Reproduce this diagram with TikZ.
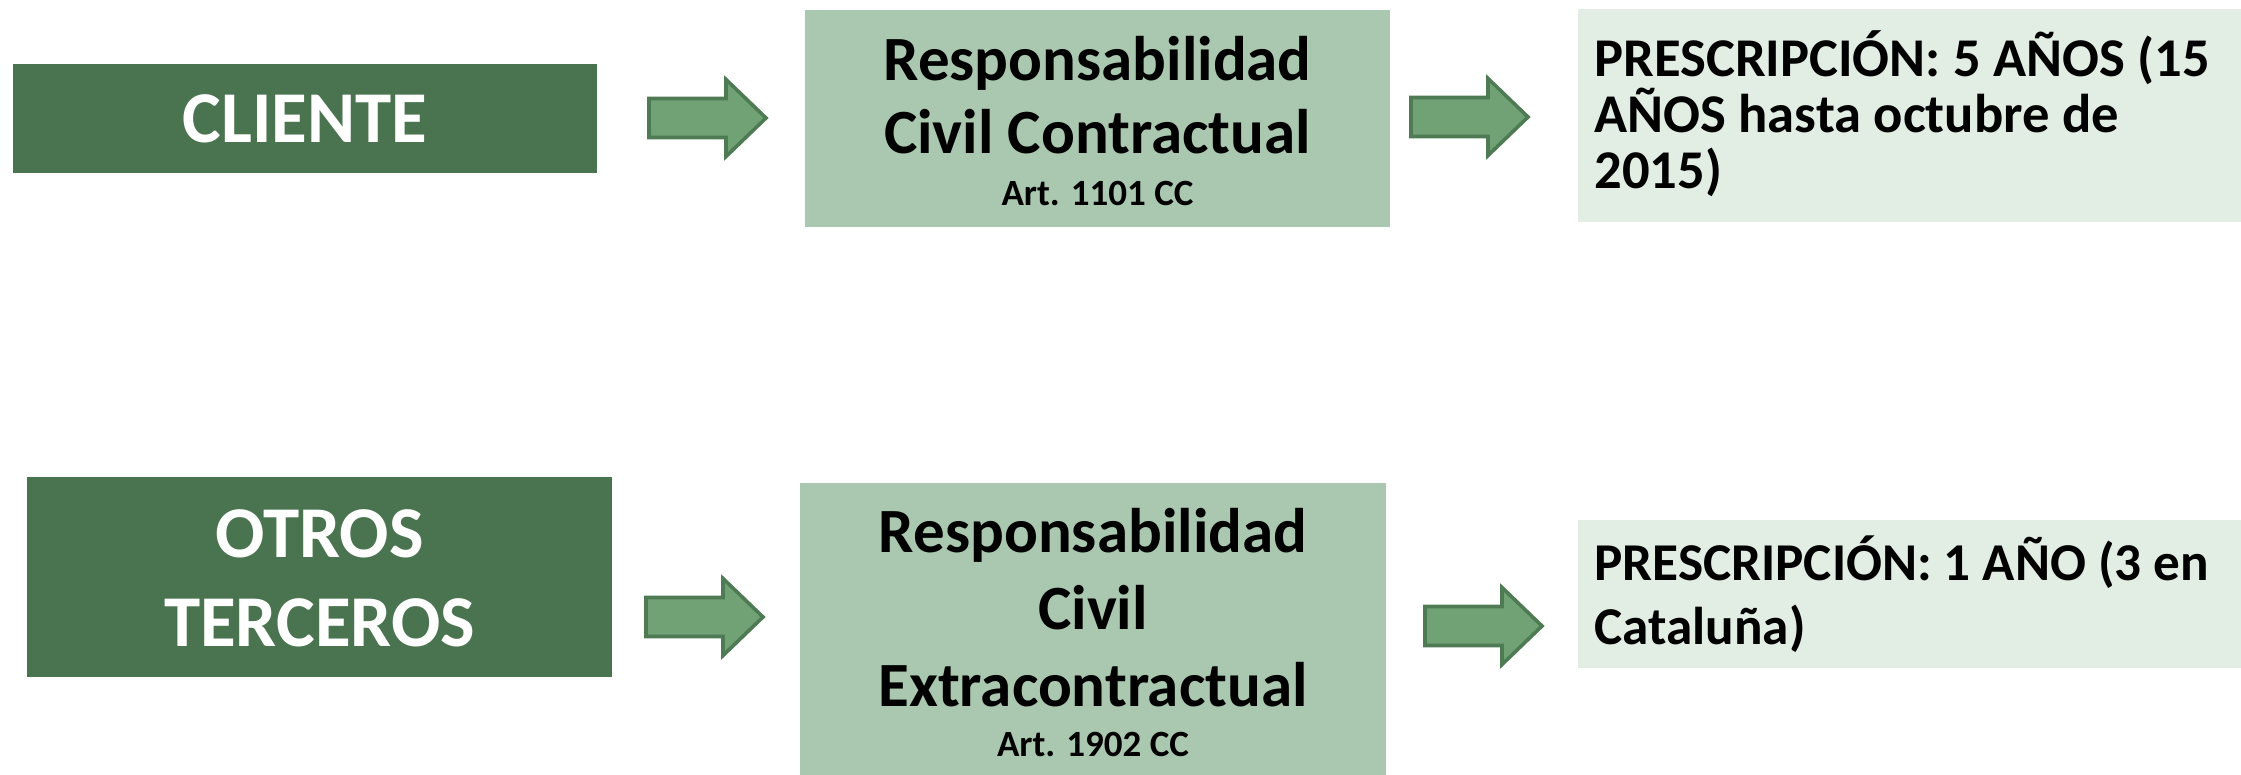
\documentclass[tikz,border=0pt]{standalone}
\usepackage{fontspec}
\setmainfont{Carlito}
\usetikzlibrary{fit}
\definecolor{dkgreen}{RGB}{74,116,79}
\definecolor{midgreen}{RGB}{170,200,175}
\definecolor{ltgreen}{RGB}{226,237,228}
\definecolor{arrfill}{RGB}{112,162,118}
\definecolor{arrdraw}{RGB}{78,122,84}
\newcommand\blockarrow[2]{%
  \draw[barrow] (#1,#2-19.5) -- ++(77,0) -- ++(0,-19) -- ++(40,38.5)
    -- ++(-40,38.5) -- ++(0,-19) -- ++(-77,0) -- cycle;}
\begin{document}
\begin{tikzpicture}[x=0.5pt,y=-0.5pt,
  darkbox/.style={fill=dkgreen, draw=none, inner sep=0pt},
  midbox/.style={fill=midgreen, draw=none, inner sep=0pt},
  lightbox/.style={fill=ltgreen, draw=none, inner sep=0pt},
  wtxt/.style={text=white, inner sep=0pt, anchor=base, align=flush center, text width=280pt,
    font=\bfseries\fontsize{36.5}{44.5}\selectfont},
  btxt/.style={text=black, inner sep=0pt, anchor=base, align=flush center, text width=290pt,
    font=\bfseries\fontsize{31.5}{36.5}\selectfont},
  ptxt/.style={text=black, inner sep=0pt, anchor=base west, align=flush left, text width=330pt},
  barrow/.style={fill=arrfill, draw=arrdraw, line width=1.8pt, line join=miter}]
\useasboundingbox (0,0) rectangle (2241,775);
\fill[white] (0,0) rectangle (2241,775);

% boxes
\node[darkbox, fit={(13,64) (597,173)}] (cliente) {};
\node[midbox, fit={(805,10) (1390,227)}] (rcc) {};
\node[lightbox, fit={(1578,9) (2270,222)}] (p1) {};
\node[darkbox, fit={(27,477) (612,677)}] (otros) {};
\node[midbox, fit={(800,483) (1386,785)}] (rce) {};
\node[lightbox, fit={(1578,520) (2270,668)}] (p2) {};

% texts
\node[wtxt] (clientetxt) at (305,143) {CLIENTE};
\node[wtxt] (otrostxt) at (319.5,557) {OTROS\\TERCEROS};
\node[btxt] (rcctxt) at (1097.5,81) {Responsabilidad\\Civil Contractual\par
  {\fontsize{18.5}{26}\selectfont Art. 1101 CC\par}};
\node[btxt, font=\bfseries\fontsize{31.5}{38.5}\selectfont] (rcetxt) at (1093,552)
  {Responsabilidad\\Civil\\Extracontractual\par
  {\fontsize{18.5}{25}\selectfont Art. 1902 CC\par}};
\node[ptxt, font=\bfseries\fontsize{27.3}{28}\selectfont] (p1txt) at (1594,77)
  {PRESCRIPCIÓN: 5 AÑOS (15\\AÑOS hasta octubre de\\2015)};
\node[ptxt, font=\bfseries\fontsize{26.6}{32}\selectfont] (p2txt) at (1594,580)
  {PRESCRIPCIÓN: 1 AÑO (3 en\\Cataluña)};

% block arrows
\blockarrow{649}{118}
\blockarrow{1411}{117}
\blockarrow{646}{617}
\blockarrow{1425}{626}
\end{tikzpicture}
\end{document}
